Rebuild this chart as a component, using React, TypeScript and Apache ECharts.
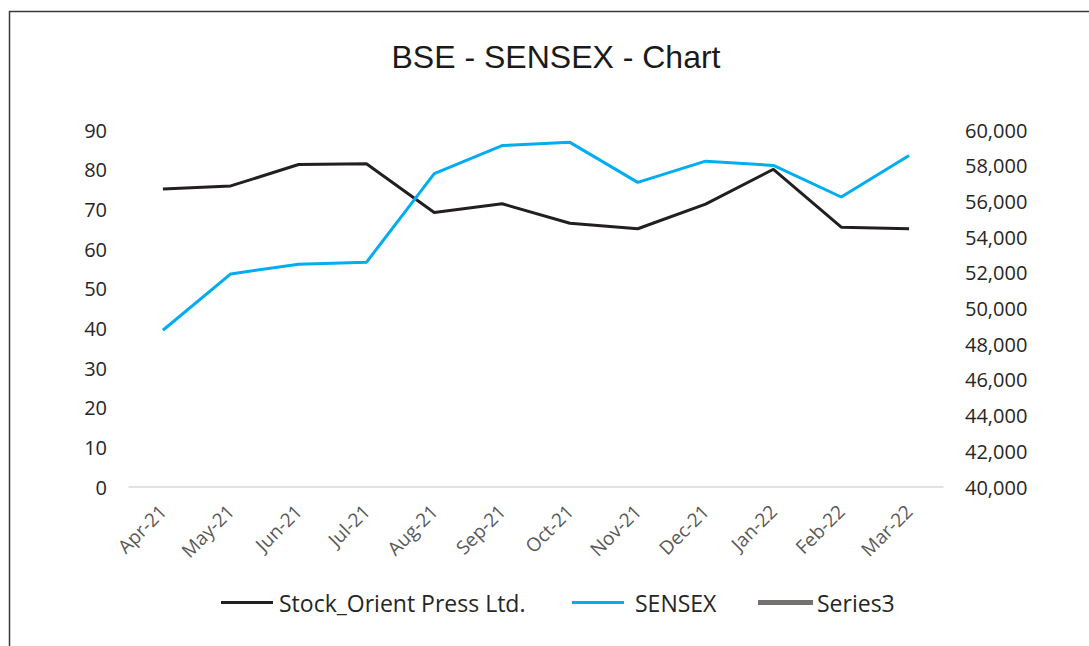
import React, { useEffect, useRef } from "react";
import * as echarts from "echarts";

const months = ["Apr-21", "May-21", "Jun-21", "Jul-21", "Aug-21", "Sep-21", "Oct-21", "Nov-21", "Dec-21", "Jan-22", "Feb-22", "Mar-22"];
const stockValues = [75.1, 75.9, 81.3, 81.5, 69.2, 71.4, 66.5, 65.1, 71.3, 80.1, 65.5, 65.1];
const sensexValues = [48782, 51937, 52483, 52587, 57552, 59126, 59307, 57065, 58254, 58014, 56247, 58569];
const series3Values: (number | null)[] = [null, null, null, null, null, null, null, null, null, null, null, null];

const titleText = "BSE - SENSEX - Chart";
const stockName = "Stock_Orient Press Ltd.";
const sensexName = "SENSEX";
const series3Name = "Series3";

export default function App() {
  const ref = useRef<HTMLDivElement>(null);
  useEffect(() => {
    if (!ref.current) return;
    const chart = echarts.init(ref.current, undefined, { renderer: "svg" });
    const labelFont = "'Open Sans', 'DejaVu Sans', sans-serif";
    chart.setOption({
      animation: false,
      backgroundColor: "#ffffff",
      title: {
        text: titleText,
        left: 551,
        top: 36,
        textAlign: "center",
        textStyle: {
          fontFamily: "'Liberation Sans', Arial, sans-serif",
          fontSize: 32,
          fontWeight: "normal",
          color: "#1a1a1a",
        },
      },
      graphic: [
        {
          type: "rect",
          shape: { x: 9.5, y: 11.5, width: 1200, height: 800 },
          style: { fill: "none", stroke: "#3a3a3a", lineWidth: 1.5 },
          silent: true,
        },
      ],
      legend: [
        {
          data: [stockName],
          left: 221,
          top: 591,
          padding: 0,
          icon: "rect",
          itemWidth: 52,
          itemHeight: 3,
          textStyle: { fontFamily: labelFont, fontSize: 23, color: "#262626", padding: [0, 0, 0, 1] },
        },
        {
          data: [sensexName],
          left: 572,
          top: 591,
          padding: 0,
          icon: "rect",
          itemWidth: 52,
          itemHeight: 3,
          textStyle: { fontFamily: labelFont, fontSize: 23, color: "#262626", padding: [0, 0, 0, 6] },
        },
        {
          data: [series3Name],
          left: 758,
          top: 591,
          padding: 0,
          icon: "rect",
          itemWidth: 55,
          itemHeight: 5,
          textStyle: { fontFamily: labelFont, fontSize: 23, color: "#262626", padding: [0, 0, 0, -1] },
        },
      ],
      grid: { left: 129, right: 146, top: 130, bottom: 159, containLabel: false },
      xAxis: {
        type: "category",
        data: months,
        boundaryGap: true,
        axisLine: { show: true, lineStyle: { color: "#d9d9d9", width: 1.5 } },
        axisTick: { show: false },
        axisLabel: {
          rotate: 45,
          margin: 21,
          interval: 0,
          fontFamily: labelFont,
          fontSize: 19,
          color: "#595959",
        },
        splitLine: { show: false },
      },
      yAxis: [
        {
          type: "value",
          min: 0,
          max: 90,
          interval: 10,
          position: "left",
          axisLine: { show: false },
          axisTick: { show: false },
          splitLine: { show: false },
          axisLabel: { margin: 22, fontFamily: labelFont, fontSize: 20, color: "#262626" },
        },
        {
          type: "value",
          min: 40000,
          max: 60000,
          interval: 2000,
          position: "right",
          axisLine: { show: false },
          axisTick: { show: false },
          splitLine: { show: false },
          axisLabel: {
            margin: 22,
            fontFamily: labelFont,
            fontSize: 20,
            color: "#262626",
            formatter: (v: number) => v.toLocaleString("en-US"),
          },
        },
      ],
      series: [
        {
          name: stockName,
          type: "line",
          yAxisIndex: 0,
          data: stockValues,
          symbol: "none",
          lineStyle: { color: "#231f20", width: 3 },
          itemStyle: { color: "#231f20" },
        },
        {
          name: sensexName,
          type: "line",
          yAxisIndex: 1,
          data: sensexValues,
          symbol: "none",
          lineStyle: { color: "#00adef", width: 3 },
          itemStyle: { color: "#00adef" },
        },
        {
          name: series3Name,
          type: "line",
          yAxisIndex: 0,
          data: series3Values,
          symbol: "none",
          lineStyle: { color: "#767171", width: 5 },
          itemStyle: { color: "#767171" },
        },
      ],
    });
    return () => chart.dispose();
  }, []);
  return (
    <div
      ref={ref}
      style={{ position: "absolute", left: 0, top: 0, width: 1089, height: 646 }}
    />
  );
}
